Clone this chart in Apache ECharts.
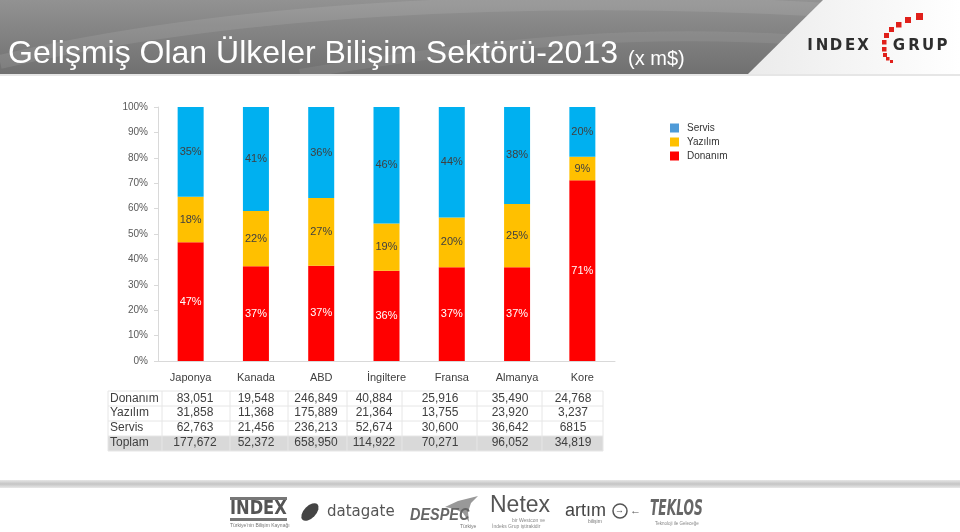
<!DOCTYPE html>
<html><head><meta charset="utf-8">
<script src="https://cdn.jsdelivr.net/npm/echarts@6/dist/echarts.min.js"></script>
<style>html,body{margin:0;padding:0;background:#fff}#c{width:960px;height:532px}</style>
</head><body><div id="c"></div>
<script>
// ---- data ----
const categories = ['Japonya', 'Kanada', 'ABD', 'İngiltere', 'Fransa', 'Almanya', 'Kore'];
const seriesNames = ['Donanım', 'Yazılım', 'Servis'];
const donanimText = ['83,051', '19,548', '246,849', '40,884', '25,916', '35,490', '24,768'];
const yazilimText = ['31,858', '11,368', '175,889', '21,364', '13,755', '23,920', '3,237'];
const servisText  = ['62,763', '21,456', '236,213', '52,674', '30,600', '36,642', '6815'];
const toplamText  = ['177,672', '52,372', '658,950', '114,922', '70,271', '96,052', '34,819'];
const rowLabels = ['Donanım', 'Yazılım', 'Servis', 'Toplam'];

const num = s => Number(s.replace(/,/g, ''));
const parts = [donanimText, yazilimText, servisText].map(a => a.map(num));
const sums = categories.map((_, i) => parts[0][i] + parts[1][i] + parts[2][i]);
const pct = parts.map(a => a.map((v, i) => v / sums[i] * 100));

const FONT = '"Liberation Sans", Arial, sans-serif';
const barColors = ['#FF0000', '#FFC000', '#00B0F0'];
const labelColors = ['#ffffff', '#404040', '#404040'];
const legendColors = { 'Servis': '#4F9BD8', 'Yazılım': '#FFC000', 'Donanım': '#FF0000' };

const chart = echarts.init(document.getElementById('c'), null, { renderer: 'canvas' });

// ---- graphics (banner, table, footer) ----
const g = [];
// banner
g.push({ type: 'rect', shape: { x: 0, y: 0, width: 960, height: 74 }, style: {
  fill: new echarts.graphic.LinearGradient(0, 0, 0, 1, [
    { offset: 0, color: '#929292' }, { offset: 1, color: '#707070' }]) }, z: 0 });
g.push({ type: 'bezierCurve', shape: { x1: 0, y1: 62, cpx1: 220, cpy1: 10, cpx2: 520, cpy2: -8, x2: 830, y2: 10 }, style: { fill: null, stroke: 'rgba(255,255,255,0.09)', lineWidth: 14 }, z: 1 });
g.push({ type: 'bezierCurve', shape: { x1: 300, y1: 74, cpx1: 500, cpy1: 40, cpx2: 650, cpy2: 30, x2: 800, y2: 40 }, style: { fill: null, stroke: 'rgba(255,255,255,0.07)', lineWidth: 10 }, z: 1 });
g.push({ type: 'polygon', shape: { points: [[823, 0], [960, 0], [960, 74], [748, 74]] }, style: {
  fill: new echarts.graphic.LinearGradient(0, 0, 1, 0, [
    { offset: 0, color: '#ebebeb' }, { offset: 1, color: '#ffffff' }]) }, z: 2 });
g.push({ type: 'rect', shape: { x: 0, y: 74, width: 960, height: 2 }, style: { fill: '#e6e6e6' }, z: 2 });
g.push({ type: 'text', x: 8, y: 54, style: { text: 'Gelişmiş Olan Ülkeler Bilişim Sektörü-2013', fill: '#ffffff', fontSize: 32, fontFamily: FONT, align: 'left', verticalAlign: 'middle', textAlign: 'left', textVerticalAlign: 'middle' }, z: 3 });
g.push({ type: 'text', x: 628, y: 59, style: { text: '(x m$)', fill: '#ffffff', fontSize: 20, fontFamily: FONT, align: 'left', verticalAlign: 'middle', textAlign: 'left', textVerticalAlign: 'middle' }, z: 3 });
// INDEX GRUP logo (letters spaced individually)
[['I', 810], ['N', 822], ['D', 836], ['E', 850], ['X', 863], ['G', 899], ['R', 914], ['U', 928], ['P', 942]].forEach(([ch, x]) => {
  g.push({ type: 'text', x, y: 46, style: { text: ch, fill: '#2e2e2e', fontSize: 15, fontWeight: 'bold', fontFamily: '"DejaVu Sans", sans-serif', align: 'center', verticalAlign: 'middle', textAlign: 'center', textVerticalAlign: 'middle' }, z: 3 });
});
[[916, 13, 7], [905, 17, 6], [896, 22, 5.5], [889, 27, 5], [884, 33, 5], [882, 40, 4.5], [882, 47, 4.5], [883, 53, 4], [886, 57, 3.5], [890, 60, 3]].forEach(s => {
  g.push({ type: 'rect', shape: { x: s[0], y: s[1], width: s[2], height: s[2] }, style: { fill: '#e0201b' }, z: 3 });
});

// table
const tableLeft = 108, tableRight = 603;
const rowY = [399, 413, 428, 443];
const colBounds = [162, 230, 288, 347, 402, 477, 542, 603];
const colCenters = [195, 256, 316, 374, 440, 510, 573];
g.push({ type: 'rect', shape: { x: tableLeft, y: 436, width: tableRight - tableLeft, height: 15 }, style: { fill: '#d9d9d9' }, z: 1 });
[391, 406, 421, 436, 451].forEach(y => g.push({ type: 'line', shape: { x1: tableLeft, y1: y, x2: tableRight, y2: y }, style: { stroke: '#e6e6e6', lineWidth: 1 }, z: 2 }));
[tableLeft].concat(colBounds).forEach(x => g.push({ type: 'line', shape: { x1: x, y1: 391, x2: x, y2: 451 }, style: { stroke: '#e6e6e6', lineWidth: 1 }, z: 2 }));
const tableRows = [donanimText, yazilimText, servisText, toplamText];
tableRows.forEach((row, r) => {
  g.push({ type: 'text', x: 110, y: rowY[r], style: { text: rowLabels[r], fill: '#404040', fontSize: 12, fontFamily: FONT, align: 'left', verticalAlign: 'middle', textAlign: 'left', textVerticalAlign: 'middle' }, z: 3 });
  row.forEach((v, c) => g.push({ type: 'text', x: colCenters[c], y: rowY[r], style: { text: v, fill: '#404040', fontSize: 12, fontFamily: FONT, align: 'center', verticalAlign: 'middle', textAlign: 'center', textVerticalAlign: 'middle' }, z: 3 }));
});

// footer band
g.push({ type: 'rect', shape: { x: 0, y: 480, width: 960, height: 8 }, style: {
  fill: new echarts.graphic.LinearGradient(0, 0, 0, 1, [
    { offset: 0, color: '#e6e6e6' }, { offset: 0.5, color: '#c4c4c4' }, { offset: 1, color: '#e8e8e8' }]) }, z: 1 });
const T = (text, x, y, o, extra) => g.push(Object.assign({ type: 'text', x, y, style: Object.assign({ text, fill: '#555', fontSize: 12, fontFamily: FONT, align: 'left', verticalAlign: 'middle', textAlign: 'left', textVerticalAlign: 'middle' }, o), z: 3 }, extra || {}));
// INDEX logo
g.push({ type: 'rect', shape: { x: 230, y: 497, width: 57, height: 3 }, style: { fill: '#777' }, z: 3 });
g.push({ type: 'rect', shape: { x: 230, y: 518, width: 57, height: 3 }, style: { fill: '#777' }, z: 3 });
T('INDEX', 230, 509, { fontSize: 19, fontWeight: 'bold', fill: '#555', fontFamily: '"DejaVu Sans Condensed", "DejaVu Sans", sans-serif' }, { scaleX: 0.95 });
T('Türkiye\'nin Bilişim Kaynağı', 230, 526, { fontSize: 5, fill: '#777' });
// datagate
g.push({ type: 'circle', shape: { cx: 0, cy: 0, r: 6 }, x: 310, y: 512, scaleX: 1.8, rotation: 0.8, style: { fill: '#444' }, z: 3 });
T('datagate', 327, 512, { fontSize: 15, fill: '#555', fontFamily: '"DejaVu Sans", sans-serif' });
// DESPEC
g.push({ type: 'polygon', shape: { points: [[445, 507], [458, 501], [478, 496], [471, 503], [468, 512], [469, 522], [463, 513], [455, 509]] }, style: { fill: '#999' }, z: 3 });
T('DESPEC', 410, 515, { fontSize: 17, fontWeight: 'bold', fontStyle: 'italic', fill: '#666' }, { x: 410, scaleX: 0.85 });
T('Türkiye', 460, 527, { fontSize: 5, fill: '#777' });
// Netex
T('Netex', 490, 506, { fontSize: 23, fill: '#555' });
T('bir Westcon ve', 512, 521, { fontSize: 5, fill: '#888' });
T('İndeks Grup iştirakidir', 492, 527, { fontSize: 5, fill: '#888' });
// artım
T('artım', 565, 511, { fontSize: 18, fill: '#444' });
g.push({ type: 'circle', shape: { cx: 620, cy: 511, r: 7 }, style: { fill: 'none', stroke: '#555', lineWidth: 1.5 }, z: 3 });
T('→', 615, 511, { fontSize: 9, fill: '#555' });
T('←', 630, 511, { fontSize: 11, fill: '#555' });
T('bilişim', 588, 522, { fontSize: 5, fill: '#777' });
// TEKLOS
T('TEKLOS', 650, 509, { fontSize: 22, fontWeight: 'bold', fontStyle: 'italic', fill: '#666', fontFamily: '"DejaVu Sans Condensed", "DejaVu Sans", sans-serif' }, { scaleX: 0.62 });
T('Teknoloji ile Geleceğe', 655, 524, { fontSize: 4.5, fill: '#888' });

const option = {
  animation: false,
  backgroundColor: '#ffffff',
  textStyle: { fontFamily: FONT },
  grid: { left: 158, right: 345, top: 107, bottom: 171, containLabel: false },
  legend: {
    orient: 'vertical', left: 665, top: 118, itemWidth: 9, itemHeight: 9, itemGap: 4, icon: 'rect',
    textStyle: { fontSize: 10, color: '#333', fontFamily: FONT, padding: [0, 0, 0, 3] },
    data: ['Servis', 'Yazılım', 'Donanım'].map(n => ({ name: n, itemStyle: { color: legendColors[n] } }))
  },
  xAxis: {
    type: 'category', data: categories,
    axisLine: { lineStyle: { color: '#d9d9d9' } },
    axisTick: { show: false },
    axisLabel: { color: '#404040', fontSize: 11, margin: 11, fontFamily: FONT }
  },
  yAxis: {
    type: 'value', min: 0, max: 100, interval: 10,
    axisLine: { show: true, lineStyle: { color: '#d9d9d9' } },
    axisTick: { show: true, length: 4, lineStyle: { color: '#d9d9d9' } },
    splitLine: { show: false },
    axisLabel: { color: '#595959', fontSize: 10, margin: 10, formatter: '{value}%', fontFamily: FONT }
  },
  series: seriesNames.map((n, k) => ({
    name: n, type: 'bar', stack: 'total', barWidth: 26, data: pct[k],
    itemStyle: { color: barColors[k] },
    label: { show: true, position: 'inside', color: labelColors[k], fontSize: 11, fontFamily: FONT,
      formatter: p => Math.round(p.value) + '%' },
    emphasis: { disabled: true }
  })),
  graphic: { elements: g }
};
chart.setOption(option);
</script>
</body></html>
